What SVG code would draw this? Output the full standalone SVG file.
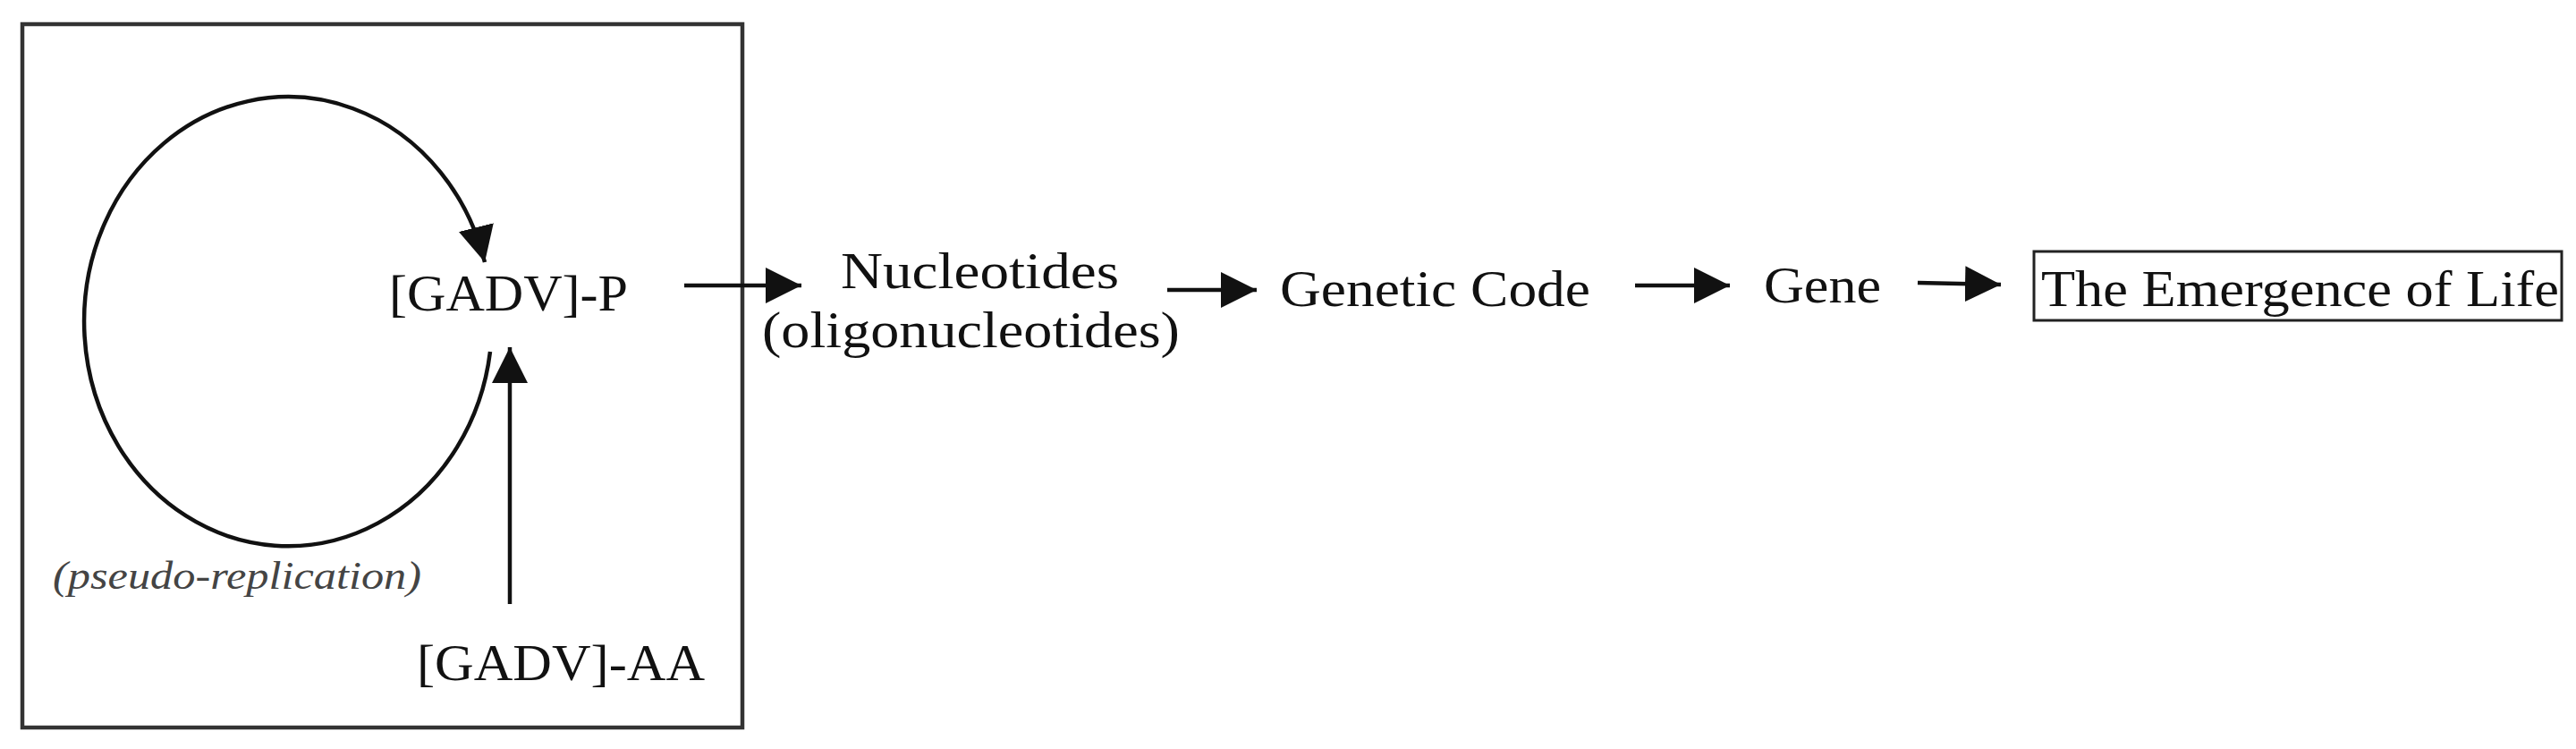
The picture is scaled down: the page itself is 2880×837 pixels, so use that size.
<svg xmlns="http://www.w3.org/2000/svg" width="2880" height="837" viewBox="0 0 2880 837">
<defs>
<style>
.t{font-family:"Liberation Serif","Times New Roman",serif;font-size:58px;fill:#111}
.i{font-family:"Liberation Serif","Times New Roman",serif;font-size:44px;font-style:italic;fill:#444}
.ln{fill:none;stroke:#111;stroke-width:4.5}
.bx{fill:none;stroke:#333;stroke-width:4.5}
</style>
<marker id="ah" markerUnits="userSpaceOnUse" markerWidth="44" markerHeight="42" refX="40" refY="20" orient="auto" viewBox="0 0 44 42">
<path d="M0,0 L40,20 L0,40 z" fill="#111"/>
</marker>
</defs>
<rect width="2880" height="837" fill="#fff"/>
<g id="frame">
<rect class="bx" x="25" y="27" width="805" height="786"/>
</g>
<g id="connectors">
<path id="loop" class="ln" d="M548,393 A228,251 0 1 1 542,293" marker-end="url(#ah)"/>
<path id="aa-to-p" class="ln" d="M570,675 L570,388" marker-end="url(#ah)"/>
<path id="p-to-nuc" class="ln" d="M765,319 L896,319" marker-end="url(#ah)"/>
<path id="nuc-to-code" class="ln" d="M1305,324 L1405,324" marker-end="url(#ah)"/>
<path id="code-to-gene" class="ln" d="M1828,319 L1934,319" marker-end="url(#ah)"/>
<path id="gene-to-life" class="ln" d="M2144,316 L2237,318" marker-end="url(#ah)"/>
</g>
<g id="gadv-p">
<text class="t" x="435" y="347" textLength="267" lengthAdjust="spacingAndGlyphs">[GADV]-P</text>
</g>
<g id="gadv-aa">
<text class="t" x="466" y="760" textLength="322" lengthAdjust="spacingAndGlyphs">[GADV]-AA</text>
</g>
<g id="pseudo">
<text class="i" x="59" y="658" textLength="412" lengthAdjust="spacingAndGlyphs">(pseudo-replication)</text>
</g>
<g id="nucleotides">
<text class="t" x="940" y="322" textLength="311" lengthAdjust="spacingAndGlyphs">Nucleotides</text>
<text class="t" x="852" y="388" textLength="467" lengthAdjust="spacingAndGlyphs">(oligonucleotides)</text>
</g>
<g id="genetic-code">
<text class="t" x="1431" y="342" textLength="347" lengthAdjust="spacingAndGlyphs">Genetic Code</text>
</g>
<g id="gene">
<text class="t" x="1972" y="338" textLength="131" lengthAdjust="spacingAndGlyphs">Gene</text>
</g>
<g id="emergence">
<rect x="2274" y="281" width="590" height="77" fill="none" stroke="#222" stroke-width="3"/>
<text class="t" x="2282" y="342" textLength="579" lengthAdjust="spacingAndGlyphs">The Emergence of Life</text>
</g>
</svg>
